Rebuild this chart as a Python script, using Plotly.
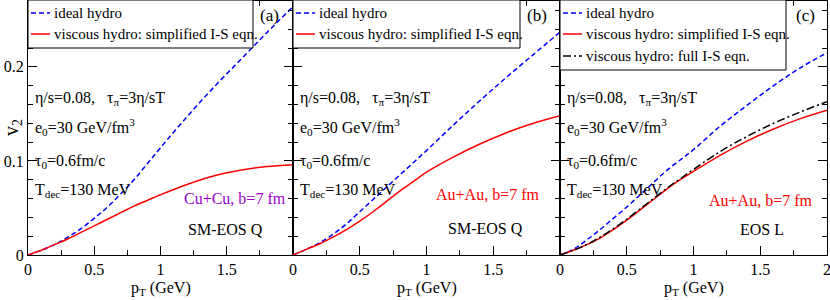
import plotly.graph_objects as go

# ---------------- data ----------------
pt = [0, 0.1, 0.2, 0.3, 0.4, 0.5, 0.6, 0.7, 0.8, 0.9, 1.0, 1.2, 1.4, 1.6, 1.8, 2.0]

# panel (a): Cu+Cu, SM-EOS Q
a_ideal = [0, 0.005, 0.011, 0.019, 0.028, 0.039, 0.051, 0.065, 0.080, 0.097, 0.114, 0.147, 0.178, 0.207, 0.236, 0.264]
a_visc = [0, 0.005, 0.011, 0.017, 0.024, 0.031, 0.038, 0.045, 0.052, 0.058, 0.064, 0.075, 0.084, 0.090, 0.094, 0.096]

# panel (b): Au+Au, SM-EOS Q
b_ideal = [0, 0.006, 0.013, 0.022, 0.033, 0.046, 0.059, 0.072, 0.085, 0.098, 0.111, 0.138, 0.164, 0.189, 0.213, 0.237]
b_visc = [0, 0.006, 0.012, 0.019, 0.027, 0.036, 0.046, 0.057, 0.068, 0.078, 0.088, 0.104, 0.118, 0.130, 0.140, 0.148]

# panel (c): Au+Au, EOS L
c_ideal = [0, 0.006, 0.016, 0.027, 0.039, 0.051, 0.064, 0.077, 0.090, 0.101, 0.112, 0.137, 0.159, 0.180, 0.199, 0.215]
c_visc = [0, 0.005, 0.011, 0.018, 0.027, 0.037, 0.048, 0.059, 0.070, 0.080, 0.089, 0.106, 0.121, 0.134, 0.145, 0.154]
c_full = [0, 0.005, 0.011, 0.019, 0.028, 0.038, 0.049, 0.060, 0.071, 0.081, 0.091, 0.110, 0.126, 0.140, 0.152, 0.163]

x_tickvals_ab = [0, 0.5, 1, 1.5]
x_ticktext_ab = ["0", "0.5", "1", "1.5"]
x_tickvals_c = [0, 0.5, 1, 1.5, 2]
x_ticktext_c = ["0", "0.5", "1", "1.5", "2"]
y_tickvals = [0, 0.1, 0.2]
y_ticktext = ["0", "0.1", "0.2"]

name_ideal = "ideal hydro"
name_visc = "viscous hydro: simplified I-S eqn."
name_full = "viscous hydro: full I-S eqn."

FONT = "Times New Roman, Liberation Serif, DejaVu Serif, serif"
BLUE = "#0000FF"
RED = "#FF0000"
BLACK = "#000000"
PURPLE = "#9A00CC"

ideal_line = dict(color=BLUE, width=1.5, dash="5px,3px")
visc_line = dict(color=RED, width=1.5)
full_line = dict(color=BLACK, width=1.5, dash="8px,3px,2px,3px")

fig = go.Figure()

series = [
    (a_ideal, ideal_line, name_ideal, 0), (a_visc, visc_line, name_visc, 0),
    (b_ideal, ideal_line, name_ideal, 1), (b_visc, visc_line, name_visc, 1),
    (c_ideal, ideal_line, name_ideal, 2), (c_visc, visc_line, name_visc, 2),
    (c_full, full_line, name_full, 2),
]
for ys, ln, nm, i in series:
    sx = "" if i == 0 else str(i + 1)
    fig.add_trace(go.Scatter(x=pt, y=ys, mode="lines", line=ln, name=nm, line_shape="spline",
                             xaxis="x" + sx, yaxis="y" + sx, showlegend=False))

L, R, T, B = 28, 3, 1, 45
W, H = 830, 300
pw = W - L - R
ph = H - T - B
d1 = 265 / pw
d2 = 532 / pw
domains = [[0, d1], [d1, d2], [d2, 1]]

tickfont = dict(family=FONT, size=16, color=BLACK)
common_x = dict(range=[0, 2], ticks="inside", ticklen=9, tickwidth=1, tickcolor=BLACK,
                showline=True, linecolor=BLACK, linewidth=1, mirror="allticks",
                showgrid=False, zeroline=False, tickfont=tickfont, automargin=False,
                ticklabeloverflow="allow",
                minor=dict(dtick=0.25, ticks="inside", ticklen=5, tickcolor=BLACK, showgrid=False))
common_y = dict(range=[0, 0.27], ticks="inside", ticklen=9, tickwidth=1, tickcolor=BLACK,
                showline=True, linecolor=BLACK, linewidth=1, mirror="allticks",
                showgrid=False, zeroline=False, tickfont=tickfont, automargin=False,
                tickvals=y_tickvals, ticktext=y_ticktext,
                minor=dict(dtick=0.02, ticks="inside", ticklen=5, tickcolor=BLACK, showgrid=False))

layout = dict(width=W, height=H, margin=dict(l=L, r=R, t=T, b=B, autoexpand=False),
              paper_bgcolor="white", plot_bgcolor="white", showlegend=False)

for i, dom in enumerate(domains):
    sx = "" if i == 0 else str(i + 1)
    xa = dict(common_x)
    xa["domain"] = dom
    xa["anchor"] = "y" + sx
    if i < 2:
        xa["tickvals"] = x_tickvals_ab
        xa["ticktext"] = x_ticktext_ab
    else:
        xa["tickvals"] = x_tickvals_c
        xa["ticktext"] = x_ticktext_c
    ya = dict(common_y)
    ya["anchor"] = "x" + sx
    if i > 0:
        ya["showticklabels"] = False
    layout["xaxis" + sx] = xa
    layout["yaxis" + sx] = ya

fig.update_layout(**layout)

# ---- per-panel legend boxes (pixel offsets from each panel's top-left corner) ----
legend_entries = [
    [(name_ideal, ideal_line), (name_visc, visc_line)],
    [(name_ideal, ideal_line), (name_visc, visc_line)],
    [(name_ideal, ideal_line), (name_visc, visc_line), (name_full, full_line)],
]
legend_w = [225, 227, 226]
legend_h = [47, 47, 69]
row_off = [12, 33, 55]

shapes = []
ann = []
for i, entries in enumerate(legend_entries):
    sx = "" if i == 0 else str(i + 1)
    shapes.append(dict(type="rect", xref="x" + sx + " domain", yref="y" + sx + " domain",
                       xsizemode="pixel", ysizemode="pixel", xanchor=0, yanchor=1,
                       x0=0, x1=legend_w[i], y0=1, y1=-legend_h[i],
                       line=dict(color=BLACK, width=1), fillcolor="white", layer="above"))
    for k, (nm, ln) in enumerate(entries):
        shapes.append(dict(type="line", xref="x" + sx + " domain", yref="y" + sx + " domain",
                           xsizemode="pixel", ysizemode="pixel", xanchor=0, yanchor=1,
                           x0=3, x1=22, y0=-row_off[k], y1=-row_off[k],
                           line=ln, layer="above"))
        ann.append(dict(x=0, y=1, xref="x" + sx + " domain", yref="y" + sx + " domain",
                        xshift=24, yshift=-row_off[k], text=nm, showarrow=False,
                        xanchor="left", yanchor="middle",
                        font=dict(family=FONT, size=15, color=BLACK)))

# ---- text annotations ----
params = ["η/s=0.08,   τ<sub>π</sub>=3η/sT", "e<sub>0</sub>=30 GeV/fm<sup>3</sup>",
          "τ<sub>0</sub>=0.6fm/c", "T<sub>dec</sub>=130 MeV"]
param_y = [0.166, 0.136, 0.099, 0.069]
labels = ["(a)", "(b)", "(c)"]
sys_text = ["Cu+Cu, b=7 fm", "Au+Au, b=7 fm", "Au+Au, b=7 fm"]
sys_col = [PURPLE, RED, RED]
sys_x = [1.56, 1.46, 1.50]
sys_y = [0.060, 0.064, 0.058]
eos_text = ["SM-EOS Q", "SM-EOS Q", "EOS L"]
eos_x = [1.49, 1.44, 1.51]
eos_y = [0.027, 0.028, 0.027]
lab_x = [1.82, 1.83, 1.84]

for i in range(3):
    sx = "" if i == 0 else str(i + 1)
    for t, yy in zip(params, param_y):
        ann.append(dict(x=0.04, y=yy, xref="x" + sx, yref="y" + sx, text=t, showarrow=False,
                        xanchor="left", yanchor="middle",
                        font=dict(family=FONT, size=16, color=BLACK)))
    ann.append(dict(x=sys_x[i], y=sys_y[i], xref="x" + sx, yref="y" + sx, text=sys_text[i],
                    showarrow=False, xanchor="center", yanchor="middle",
                    font=dict(family=FONT, size=16, color=sys_col[i])))
    ann.append(dict(x=eos_x[i], y=eos_y[i], xref="x" + sx, yref="y" + sx, text=eos_text[i],
                    showarrow=False, xanchor="center", yanchor="middle",
                    font=dict(family=FONT, size=16, color=BLACK)))
    ann.append(dict(x=lab_x[i], y=0.255, xref="x" + sx, yref="y" + sx, text=labels[i],
                    showarrow=False, xanchor="center", yanchor="middle",
                    font=dict(family=FONT, size=17, color=BLACK)))
    ann.append(dict(x=0.5, y=-33 / ph, xref="x" + sx + " domain", yref="paper",
                    text="p<sub>T</sub> (GeV)", showarrow=False, xanchor="center", yanchor="middle",
                    font=dict(family=FONT, size=16, color=BLACK)))

ann.append(dict(x=-16 / pw, y=0.5, xref="paper", yref="paper", text="v<sub>2</sub>",
                showarrow=False, textangle=-90, xanchor="center", yanchor="middle",
                font=dict(family=FONT, size=20, color=BLACK)))

fig.update_layout(shapes=shapes, annotations=ann)
fig.write_html("out.html", config={"displayModeBar": False},
               post_script="document.body.style.margin='0';document.body.style.padding='0';")
